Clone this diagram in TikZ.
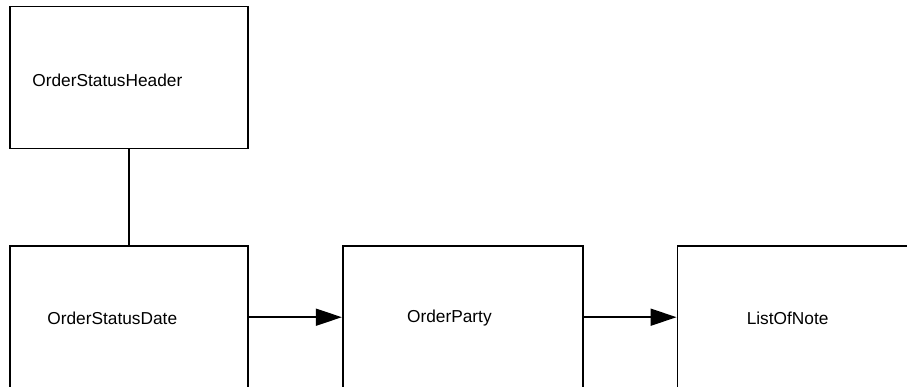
\documentclass[tikz,border=0pt]{standalone}
\usepackage{fontspec}
\setmainfont{Liberation Sans}
\usetikzlibrary{arrows.meta, positioning}

\begin{document}
\begin{tikzpicture}[
  x=1pt, y=-1pt,
  node distance=95.5pt and 93pt,
  entity/.style={draw,line width=1.7pt,minimum width=238pt,minimum height=143pt,inner sep=0pt},
  lbl/.style={inner sep=0pt,anchor=west,font=\fontsize{17.3}{20}\selectfont},
  arrow/.style={-{Triangle[length=26pt,width=17pt]},line width=1.7pt}]
  \clip (0,0) rectangle (907,386);
  \node[entity,minimum height=142pt] (hdr) at (129,77.5) {};
  \node[entity,below=of hdr] (date) {};
  \node[entity,right=of date,minimum width=240pt] (party) {};
  \node[entity,right=of party,minimum width=240pt] (note) {};
  % texts
  \node[lbl,right=23pt of hdr.west,yshift=-2.5pt] (hdrtxt) {OrderStatusHeader};
  \node[lbl,right=38pt of date.west,yshift=-1pt] (datetxt) {OrderStatusDate};
  \node[lbl,right=65pt of party.west,yshift=-1pt] (partytxt) {OrderParty};
  \node[lbl,right=70pt of note.west,yshift=-1pt] (notetxt) {ListOfNote};
  % links
  \draw[line width=1.7pt] (hdr)--(date);
  \draw[arrow] (date)--(party);
  \draw[arrow] (party)--(note);
\end{tikzpicture}
\end{document}
